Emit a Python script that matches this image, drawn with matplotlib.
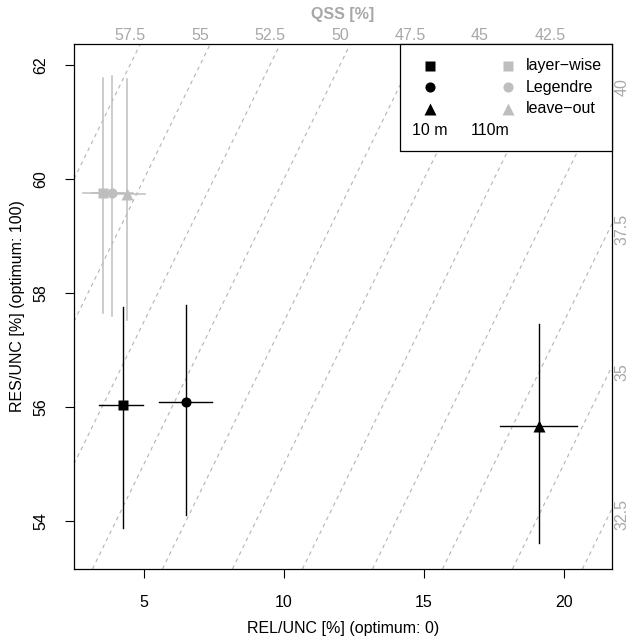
import matplotlib
matplotlib.use("Agg")
import matplotlib.pyplot as plt
from matplotlib.transforms import blended_transform_factory
from matplotlib.patches import Rectangle

FS = 11.5
plt.rcParams['font.family'] = ['Liberation Sans', 'DejaVu Sans']
plt.rcParams['font.size'] = FS

# ---- data ----
methods = ["layer\u2212wise", "Legendre", "leave\u2212out"]
markers = ["s", "o", "^"]

rel_10 = [4.24, 6.50, 19.12]
rel_10_lo = [3.40, 5.55, 17.71]
rel_10_hi = [4.98, 7.42, 20.48]
res_10 = [56.04, 56.08, 55.67]
res_10_lo = [53.88, 54.10, 53.62]
res_10_hi = [57.75, 57.79, 57.45]

rel_110 = [3.52, 3.86, 4.38]
rel_110_lo = [2.83, 3.15, 3.60]
rel_110_hi = [4.25, 4.60, 5.04]
res_110 = [59.76, 59.75, 59.73]
res_110_lo = [57.65, 57.59, 57.52]
res_110_hi = [61.78, 61.80, 61.75]

qss_levels = [32.5, 35, 37.5, 40, 42.5, 45, 47.5, 50, 52.5, 55, 57.5]
qss_top_labels = [57.5, 55, 52.5, 50, 47.5, 45, 42.5]
qss_right_labels = [40, 37.5, 35, 32.5]

x_ticks = [5, 10, 15, 20]
y_ticks = [54, 56, 58, 60, 62]

xlim = (2.5, 21.714)
ylim = (53.158, 62.368)

GREY = "#BEBEBE"
LABGREY = "#A8A8A8"
LINEGREY = "#B4B4B4"

fig = plt.figure(figsize=(6.32, 6.37), dpi=100)
W, H = 632, 637
L, R, T, B = 74, 612, 44, 569
ax = fig.add_axes([L / W, 1 - B / H, (R - L) / W, (B - T) / H])
ax.set_xlim(*xlim)
ax.set_ylim(*ylim)

# iso-QSS lines
for q in qss_levels:
    ax.axline((0, q), slope=1, color=LINEGREY, lw=0.8, dashes=(3.5, 3.5), zorder=1)

# 110 m points (grey)
for i in range(3):
    ax.plot([rel_110[i], rel_110[i]], [res_110_lo[i], res_110_hi[i]], color=GREY, lw=1.1, zorder=2)
    ax.plot([rel_110_lo[i], rel_110_hi[i]], [res_110[i], res_110[i]], color=GREY, lw=1.1, zorder=2)
for i in range(3):
    ms = 9 if markers[i] == "^" else 7.3
    ax.plot(rel_110[i], res_110[i], marker=markers[i], color=GREY, ms=ms, mec="none", zorder=3)

# 10 m points (black)
for i in range(3):
    ax.plot([rel_10[i], rel_10[i]], [res_10_lo[i], res_10_hi[i]], color="black", lw=1.0, zorder=4)
    ax.plot([rel_10_lo[i], rel_10_hi[i]], [res_10[i], res_10[i]], color="black", lw=1.0, zorder=4)
    ms = 9 if markers[i] == "^" else 7.3
    ax.plot(rel_10[i], res_10[i], marker=markers[i], color="black", ms=ms, mec="none", zorder=5)

# axes styling
ax.set_xticks(x_ticks)
ax.set_xticklabels([str(v) for v in x_ticks])
ax.set_yticks(y_ticks)
ax.set_yticklabels([str(v) for v in y_ticks], rotation=90, va="center")
ax.tick_params(direction="out", length=6.5, width=0.8, labelsize=FS, pad=12)
for sp in ax.spines.values():
    sp.set_linewidth(0.9)
ax.set_xlabel("REL/UNC [%] (optimum: 0)", fontsize=FS, labelpad=8)
ax.set_ylabel("RES/UNC [%] (optimum: 100)", fontsize=FS, labelpad=6)

# top QSS labels
trans_top = blended_transform_factory(ax.transData, ax.transAxes)
for q in qss_top_labels:
    ax.text(62.0 - q, 1.0 + 8.5 / (B - T), f"{q:g}", transform=trans_top, ha="center",
            va="center", color=LABGREY, fontsize=FS, clip_on=False)
fig.text((L + R) / 2 / W, 1 - 14 / H, "QSS [%]", ha="center", va="center",
         color=LABGREY, fontsize=FS, fontweight="bold")

# right QSS labels
trans_right = blended_transform_factory(ax.transAxes, ax.transData)
for q in qss_right_labels:
    ax.text(1.0 + 10 / (R - L), xlim[1] + q - 0.1, f"{q:g}", transform=trans_right,
            ha="center", va="center", rotation=90, color=LABGREY, fontsize=FS, clip_on=False)

# legend box
def axx(px):
    return (px - L) / (R - L)

def axy(py):
    return (B - py) / (B - T)

ax.add_patch(Rectangle((axx(400), axy(151)), 1 - axx(400), 1 - axy(151), transform=ax.transAxes,
                       facecolor="white", edgecolor="black", lw=0.9, zorder=10, clip_on=False))
rows = [65.6, 87.3, 108.8]
for i in range(3):
    ms = 9 if markers[i] == "^" else 7.3
    ax.plot(axx(430), axy(rows[i]), marker=markers[i], color="black", ms=ms, mec="none",
            transform=ax.transAxes, zorder=11, clip_on=False)
    ax.plot(axx(508), axy(rows[i]), marker=markers[i], color=GREY, ms=ms, mec="none",
            transform=ax.transAxes, zorder=11, clip_on=False)
    ax.text(axx(526), axy(rows[i]), methods[i], transform=ax.transAxes, ha="left", va="center",
            fontsize=FS, zorder=12)
ax.text(axx(412), axy(130.4), "10 m", transform=ax.transAxes, ha="left", va="center",
        fontsize=FS, zorder=12)
ax.text(axx(471), axy(130.4), "110m", transform=ax.transAxes, ha="left", va="center",
        fontsize=FS, zorder=12)

fig.savefig("out.png", dpi=100)
